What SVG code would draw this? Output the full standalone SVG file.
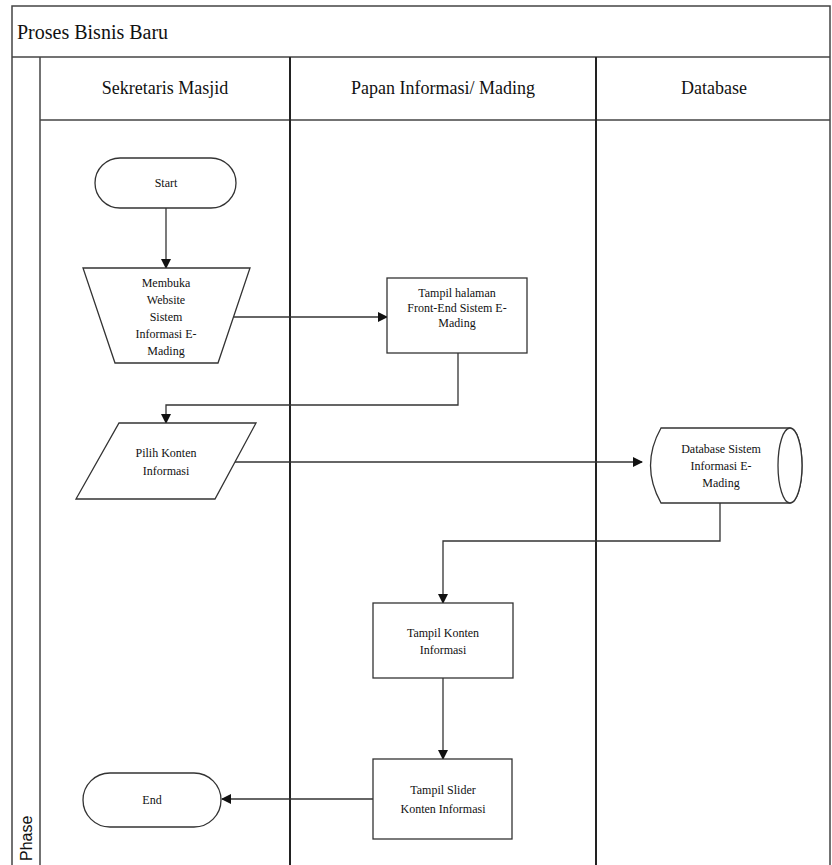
<svg xmlns="http://www.w3.org/2000/svg" width="832" height="865" viewBox="0 0 832 865">
<style>
.frame{fill:none;stroke:#444;stroke-width:1.5}
.lane{fill:none;stroke:#222;stroke-width:2}
.node{fill:#fff;stroke:#333;stroke-width:1.3}
.conn{fill:none;stroke:#333;stroke-width:1.3}
.t{font-family:'Liberation Serif','DejaVu Serif',serif;font-size:12px;fill:#111;text-anchor:middle}
.h{font-family:'Liberation Serif','DejaVu Serif',serif;font-size:18px;fill:#111;text-anchor:middle}
.title{font-family:'Liberation Serif','DejaVu Serif',serif;font-size:20px;fill:#111}
.ph{font-family:'Liberation Sans','DejaVu Sans',sans-serif;font-size:16px;fill:#111}
</style>
<defs>
<marker id="arr" markerWidth="10" markerHeight="10" refX="9" refY="5" orient="auto" markerUnits="userSpaceOnUse">
<path d="M0,0 L10,5 L0,10 Z" fill="#111"/>
</marker>
</defs>
<rect width="832" height="865" fill="#fff"/>
<g id="pool">
<rect class="frame" x="12" y="6" width="818" height="862"/>
<line class="frame" x1="12" y1="57" x2="830" y2="57"/>
<text class="title" x="17" y="39" font-family="Liberation Serif, DejaVu Serif, serif">Proses Bisnis Baru</text>
<line class="frame" x1="40" y1="57" x2="40" y2="865"/>
<line class="frame" x1="40" y1="120" x2="830" y2="120"/>
<line class="lane" x1="290" y1="57" x2="290" y2="865"/>
<line class="lane" x1="596" y1="57" x2="596" y2="865"/>
<text class="h" x="165" y="94">Sekretaris Masjid</text>
<text class="h" x="443" y="94">Papan Informasi/ Mading</text>
<text class="h" x="714" y="94">Database</text>
<text class="ph" transform="translate(32,861) rotate(-90)">Phase</text>
</g>
<g id="connectors">
<line class="conn" x1="166" y1="208" x2="166" y2="268" marker-end="url(#arr)"/>
<line class="conn" x1="234" y1="317" x2="387" y2="317" marker-end="url(#arr)"/>
<polyline class="conn" points="458,353 458,405 166,405 166,423" marker-end="url(#arr)"/>
<line class="conn" x1="235" y1="462" x2="642" y2="462" marker-end="url(#arr)"/>
<polyline class="conn" points="720,503 720,541 443,541 443,603" marker-end="url(#arr)"/>
<line class="conn" x1="443" y1="678" x2="443" y2="759" marker-end="url(#arr)"/>
<line class="conn" x1="373" y1="799" x2="222" y2="799" marker-end="url(#arr)"/>
</g>
<g id="start">
<rect class="node" x="95" y="158" width="141" height="50" rx="25"/>
<text class="t" x="166" y="187">Start</text>
</g>
<g id="membuka">
<polygon class="node" points="83,268 250,268 218,363 115,363"/>
<text class="t" x="166" y="287">Membuka</text>
<text class="t" x="166" y="304">Website</text>
<text class="t" x="166" y="321">Sistem</text>
<text class="t" x="166" y="338">Informasi E-</text>
<text class="t" x="166" y="355">Mading</text>
</g>
<g id="frontend">
<rect class="node" x="387" y="278" width="140" height="75"/>
<text class="t" x="457" y="297">Tampil halaman</text>
<text class="t" x="457" y="312">Front-End Sistem E-</text>
<text class="t" x="457" y="327">Mading</text>
</g>
<g id="pilih">
<polygon class="node" points="119,423 256,423 215,499 76,499"/>
<text class="t" x="166" y="457">Pilih Konten</text>
<text class="t" x="166" y="475">Informasi</text>
</g>
<g id="database">
<path class="node" d="M661,428 L790,428 A12,37.5 0 0 1 790,503 L661,503 Q640,465.5 661,428 Z"/>
<ellipse class="node" cx="790" cy="465.5" rx="12" ry="37.5"/>
<text class="t" x="721" y="453">Database Sistem</text>
<text class="t" x="721" y="470">Informasi E-</text>
<text class="t" x="721" y="487">Mading</text>
</g>
<g id="konten">
<rect class="node" x="373" y="603" width="140" height="75"/>
<text class="t" x="443" y="637">Tampil Konten</text>
<text class="t" x="443" y="654">Informasi</text>
</g>
<g id="slider">
<rect class="node" x="373" y="759" width="139" height="80"/>
<text class="t" x="443" y="794">Tampil Slider</text>
<text class="t" x="443" y="813">Konten Informasi</text>
</g>
<g id="end">
<rect class="node" x="83" y="773" width="138" height="54" rx="27"/>
<text class="t" x="152" y="804">End</text>
</g>
</svg>
